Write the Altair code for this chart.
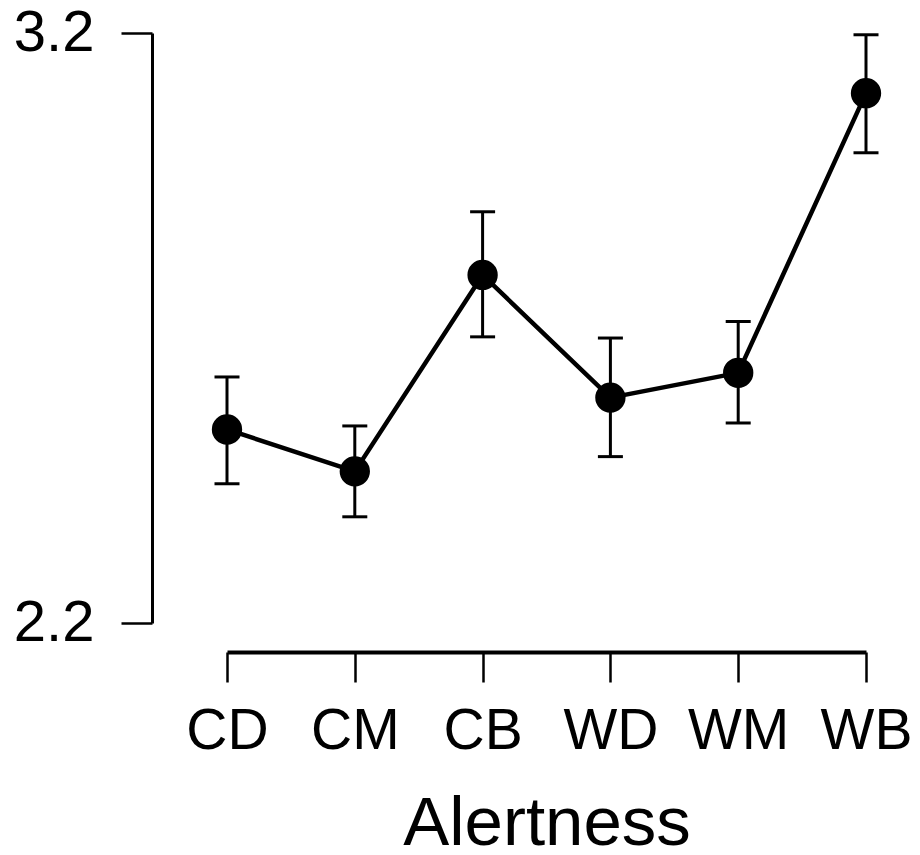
import altair as alt
import pandas as pd

categories = ["CD", "CM", "CB", "WD", "WM", "WB"]
means = [2.528, 2.457, 2.790, 2.582, 2.624, 3.098]
upper = [2.617, 2.534, 2.897, 2.683, 2.711, 3.197]
lower = [2.436, 2.380, 2.685, 2.482, 2.539, 2.997]
y_ticks = [2.2, 3.2]

df = pd.DataFrame({"cond": categories, "mean": means, "hi": upper, "lo": lower})

FONT = "Liberation Sans"

x_enc = alt.X(
    "cond:N",
    sort=categories,
    scale=alt.Scale(type="point", padding=0),
    axis=alt.Axis(
        title="Alertness",
        labelAngle=0,
        labelFontSize=57,
        labelFont=FONT,
        labelColor="black",
        labelPadding=21,
        titleFontSize=69,
        titleFont=FONT,
        titleFontWeight="normal",
        titleColor="black",
        titlePadding=30,
        domainColor="black",
        domainWidth=4,
        tickColor="black",
        tickWidth=2.5,
        tickSize=30,
        offset=29,
        grid=False,
    ),
)

y_scale = alt.Scale(domain=[2.2, 3.2], nice=False, zero=False)
y_enc = alt.Y(
    "mean:Q",
    scale=y_scale,
    axis=alt.Axis(
        title=None,
        values=y_ticks,
        format=".1f",
        labelFontSize=58,
        labelFont=FONT,
        labelColor="black",
        labelPadding=27,
        domainColor="black",
        domainWidth=3,
        tickColor="black",
        tickWidth=2.5,
        tickSize=31,
        offset=75,
        grid=False,
    ),
)

base = alt.Chart(df)

rules = base.mark_rule(color="black", strokeWidth=3).encode(
    x=x_enc, y=alt.Y("lo:Q", scale=y_scale), y2="hi:Q"
)
cap_hi = base.mark_tick(orient="horizontal", size=25, thickness=3, color="black", opacity=1).encode(
    x=x_enc, y=alt.Y("hi:Q", scale=y_scale)
)
cap_lo = base.mark_tick(orient="horizontal", size=25, thickness=3, color="black", opacity=1).encode(
    x=x_enc, y=alt.Y("lo:Q", scale=y_scale)
)
line = base.mark_line(color="black", strokeWidth=4.5).encode(x=x_enc, y=y_enc)
pts = base.mark_circle(color="black", size=920, opacity=1).encode(x=x_enc, y=y_enc)

chart = (
    alt.layer(line, rules, cap_hi, cap_lo, pts)
    .properties(
        width=639,
        height=590,
        padding={"left": 219, "top": 25, "right": 45, "bottom": 230},
        autosize=alt.AutoSizeParams(type="none"),
    )
    .configure(background="white")
    .configure_view(stroke=None, strokeWidth=0)
)

chart.save("out.html", embed_options={"renderer": "svg", "actions": False})
